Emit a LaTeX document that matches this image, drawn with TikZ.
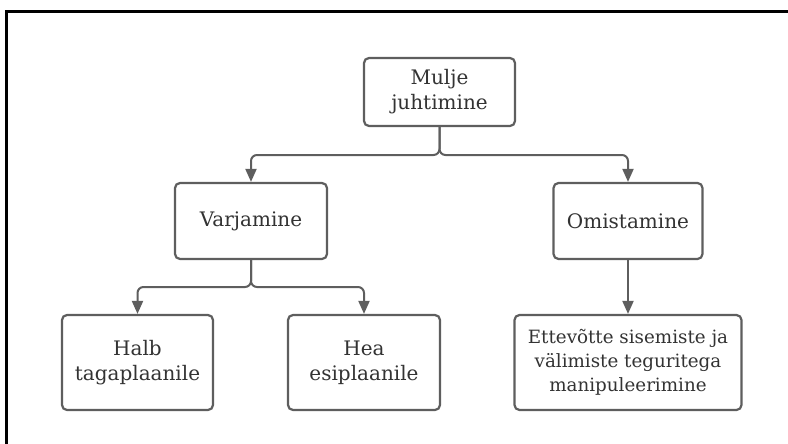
\documentclass[tikz,border=0pt]{standalone}
\usepackage{fontspec}
\setmainfont{DejaVu Serif}
\usetikzlibrary{arrows.meta}
\definecolor{boxgray}{HTML}{5E5E5E}
\definecolor{txtgray}{HTML}{333333}
\tikzset{
  box/.style={draw=boxgray, line width=2.2pt, rounded corners=5pt, fill=white,
    align=center, text=txtgray, inner sep=0pt,
    font=\fontsize{20}{25}\selectfont},
  conn/.style={draw=boxgray, line width=2pt, rounded corners=6pt,
    -{Triangle[width=11pt,length=13pt]}},
  frameline/.style={draw=black, line width=3pt}
}
\begin{document}
\begin{tikzpicture}[x=1pt,y=-1pt]
\useasboundingbox (0,0) rectangle (788,444);
\coordinate (fa) at (6.5,444);
\coordinate (fb) at (6.5,11.5);
\coordinate (fc) at (788,11.5);
\draw[frameline] (fa) -- (fb) -- (fc);

\node[box, minimum width=151pt, minimum height=68pt] (mulje) at (439.5,92) {Mulje\\juhtimine};
\node[box, minimum width=152pt, minimum height=76pt] (varj) at (251,221) {Varjamine};
\node[box, minimum width=149pt, minimum height=76pt] (omis) at (628,221) {Omistamine};
\node[box, minimum width=151pt, minimum height=95pt] (halb) at (137.5,362.5) {Halb\\tagaplaanile};
\node[box, minimum width=152pt, minimum height=95pt] (hea) at (364,362.5) {Hea\\esiplaanile};
\node[box, minimum width=227pt, minimum height=95pt, font=\fontsize{18.3}{24}\selectfont] (ette) at (628,362.5) {Ettevõtte sisemiste ja\\välimiste teguritega\\manipuleerimine};

\coordinate (j1) at (439.5,155);
\coordinate (j2) at (251,287);
\draw[conn] (mulje.south) -- (j1) -| (varj.north);
\draw[conn] (mulje.south) -- (j1) -| (omis.north);
\draw[conn] (varj.south) -- (j2) -| (halb.north);
\draw[conn] (varj.south) -- (j2) -| (hea.north);
\draw[conn] (omis.south) -- (ette.north);
\end{tikzpicture}
\end{document}
